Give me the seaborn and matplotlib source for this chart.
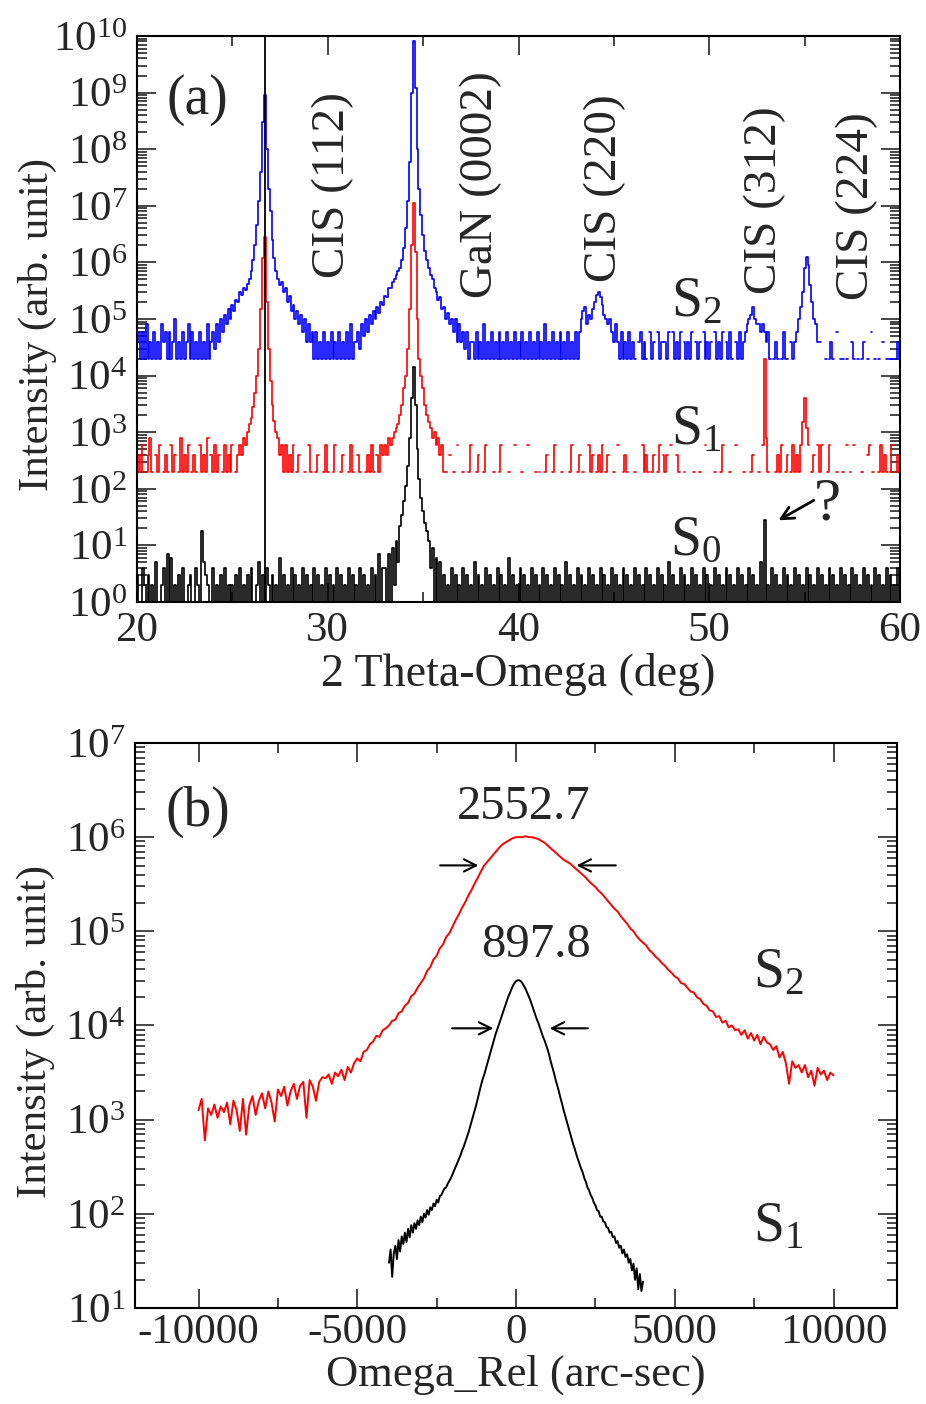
import numpy as np
import pandas as pd
import matplotlib
matplotlib.use("Agg")
import matplotlib.pyplot as plt
import seaborn as sns
from matplotlib.ticker import LogLocator, MultipleLocator, LogFormatterMathtext, NullFormatter

# ---------------- panel (a): 2theta-omega scans, 0.1 deg grid 20..60 deg
# baseline counts (one digit per point); S0 zeros drop to the axis, S1/S2 zeros are gaps
s0_counts = ("30142031205102407160213041023014201532014021304120"
             "20314021304102503142031206130214031204130214031204"
             "13021403120413021403120413071403120413021403120413"
             "02130412041302140312041302150312041302140312061302"
             "14031204130214031204130215031204130214031204130214"
             "03120413021403120413021403120513021403120413021403"
             "12041302140312041302140312051302140312041302140312"
             "04130214031204130214031204130214031204130214031204"
             "1")
s1_counts = ("12130124102130121031201412130121031214021312013121"
             "30121021312410213121312140213121301200103100120013"
             "10013001200131002100121310213214021312130213121402"
             "12131214021310201030010013001200130001001300010030"
             "00100300010100120013000100013001201003120121301200"
             "10300121000100031210120130212030021001000010010030"
             "00010013000100300010001200100031000121301201312121"
             "21301203130013000100103010300010023010013121013012"
             "1")
s2_counts = ("23131412131214231312512131241312131214123121412131"
             "21312131213121312131213121312131213121312131412131"
             "21312131213141213121213141312131213121312131213121"
             "31213121312131213121312131213121412131213121312131"
             "21312131213121412131213121312131213121312131213121"
             "31213121312102312103120312021303121302121302120312"
             "12031213021310213121121312131213101210131102120101"
             "12131010200101210301101002101012010301010201101012"
             "1")
s0_scale, s1_scale, s2_scale = 1.0, 200.0, 2.0e4

# peak profiles (intensity, start angle, 0.1 deg apart)
s2_112_start = 24.0
s2_112 = [6e4, 3e4, 8e4, 4e4, 1e5, 6e4, 1.2e5, 8e4, 1.5e5, 1e5,
          1.8e5, 1.4e5, 2.2e5, 2e5, 3e5, 2.6e5, 3.5e5, 3.2e5, 4.2e5, 5e5,
          7e5, 1.1e6, 2e6, 4.5e6, 1.2e7, 4e7, 3e8, 9e8, 1e8, 2e7,
          8e6, 2.5e6, 1.2e6, 7e5, 5e5, 4e5, 4.5e5, 3e5, 3.5e5, 2e5,
          2.5e5, 1.4e5, 1.8e5, 1e5, 1.4e5, 8e4, 1.2e5, 6e4, 1e5, 4e4,
          8e4, 4e4, 6e4, 2e4, 6e4]
s2_gan_start = 31.5
s2_gan = [4e4, 6e4, 3e4, 8e4, 5e4,
          1e5, 6e4, 1.2e5, 8e4, 1.4e5, 1e5, 1.6e5, 1.3e5, 2e5, 1.8e5,
          2.5e5, 2.4e5, 3.5e5, 3.5e5, 4.5e5, 5e5, 6e5, 7e5, 8e5, 1.1e6,
          1.8e6, 4e6, 1.2e7, 6e7, 1e9, 8e9, 1.2e9, 1e8, 2e7, 7e6,
          3e6, 1.6e6, 1.1e6, 8e5, 6e5, 5e5, 3.5e5, 3e5, 2.2e5, 2.4e5,
          1.5e5, 1.6e5, 1e5, 1.3e5, 8e4, 1e5, 6e4, 1e5, 4e4, 8e4,
          4e4, 6e4, 3e4, 6e4, 2e4, 4e4]
s2_220_start = 43.2
s2_220 = [6e4, 1e5, 1.4e5, 1.6e5, 8e4, 1.2e5, 1e5, 1.5e5, 2e5, 2.6e5,
          3e5, 2.4e5, 1.8e5, 1.2e5, 1e5, 8e4, 1e5, 6e4, 4e4, 8e4]
s2_312_start = 51.9
s2_312 = [6e4, 8e4, 1e5, 1.2e5, 1.6e5, 1e5, 8e4, 8e4, 6e4, 8e4, 6e4, 4e4]
s2_224_start = 54.6
s2_224 = [6e4, 1e5, 1.6e5, 3e5, 8e5, 1.25e6, 9e5, 4e5, 2e5, 1e5, 8e4, 4e4]

s1_112_start = 25.3
s1_112 = [400, 600, 400, 800, 600, 1000, 1400, 1800, 2800, 5000,
          1e4, 3e4, 1.5e5, 1.2e6, 2.8e6, 2e5, 3e4, 8000, 3000, 1600,
          1000, 800, 400, 600, 200]
s1_gan_start = 32.9
s1_gan = [400, 600, 400, 800, 600, 800, 1000, 1200, 1400, 2000,
          3000, 6000, 1e4, 3e4, 1.5e5, 2e6, 1.1e7, 1.5e6, 1e5, 2e4,
          1e4, 6000, 3000, 2000, 1500, 1200, 800, 1000, 600, 800,
          400, 600, 200]
s1_312_start = 52.8
s1_312 = [600, 2e4, 800]
s1_224_start = 54.8
s1_224 = [600, 1500, 4000, 1200, 600]

s0_gan_start = 33.0
s0_gan = [4, 0, 7, 1, 9, 2, 12, 5, 22, 35,
          60, 110, 250, 800, 4000, 1.4e4, 3000, 500, 150, 70,
          40, 25, 18, 12, 4, 9, 1, 6, 0, 5, 1]
s0_spike_x = [23.4, 52.9]
s0_spike_y = [18, 28]

cis112_line = 26.7

# ---------------- panel (b): omega rocking curves (log10 intensity)
s2_rc_log = [3.10, 3.22, 2.78, 3.12, 3.05, 3.16, 3.02, 3.14, 3.08, 3.18,
             2.95, 3.20, 3.10, 2.88, 3.22, 2.84, 3.15, 3.25, 3.05, 3.20,
             3.28, 3.12, 3.30, 3.18, 2.98, 3.32, 3.25, 3.35, 3.15, 3.30,
             3.38, 3.22, 3.36, 3.40, 3.02, 3.42, 3.35, 3.20, 3.40, 3.45,
             3.44, 3.48, 3.38, 3.50, 3.46, 3.53, 3.42, 3.56, 3.50, 3.60,
             3.65, 3.62, 3.72, 3.74, 3.80, 3.83, 3.89, 3.88, 3.95, 3.97,
             4.00, 4.05, 4.06, 4.13, 4.15, 4.21, 4.24, 4.31, 4.34, 4.40,
             4.45, 4.50, 4.58, 4.62, 4.70, 4.74, 4.82, 4.86, 4.94, 4.98,
             5.05, 5.12, 5.18, 5.25, 5.31, 5.38, 5.44, 5.51, 5.57, 5.64,
             5.70, 5.74, 5.78, 5.82, 5.86, 5.90, 5.93, 5.95, 5.97, 5.99,
             6.00, 6.00, 6.00, 6.01, 6.00, 6.00, 5.99, 5.98, 5.96, 5.94,
             5.91, 5.88, 5.85, 5.82, 5.79, 5.76, 5.74, 5.72, 5.69, 5.66,
             5.63, 5.60, 5.57, 5.53, 5.50, 5.47, 5.43, 5.40, 5.36, 5.32,
             5.28, 5.24, 5.21, 5.16, 5.12, 5.08, 5.03, 5.00, 4.95, 4.91,
             4.88, 4.85, 4.80, 4.77, 4.73, 4.70, 4.66, 4.63, 4.59, 4.56,
             4.52, 4.50, 4.45, 4.44, 4.40, 4.36, 4.35, 4.30, 4.28, 4.23,
             4.21, 4.16, 4.15, 4.09, 4.10, 4.03, 4.05, 3.98, 4.00, 3.95,
             3.96, 3.90, 3.95, 3.86, 3.92, 3.84, 3.90, 3.80, 3.88, 3.82,
             3.80, 3.74, 3.78, 3.66, 3.72, 3.60, 3.38, 3.62, 3.55, 3.58,
             3.50, 3.58, 3.45, 3.52, 3.36, 3.55, 3.48, 3.52, 3.42, 3.50,
             3.47]
s1_rc_log = [1.48, 1.62, 1.33, 1.58, 1.66, 1.52, 1.72, 1.60, 1.76, 1.68,
             1.80, 1.70, 1.84, 1.75, 1.88, 1.80, 1.90, 1.84, 1.93, 1.88,
             1.97, 1.91, 2.00, 1.96, 2.04, 1.99, 2.07, 2.04, 2.11, 2.08,
             2.15, 2.12, 2.19, 2.20, 2.24, 2.27, 2.28, 2.32, 2.35, 2.38,
             2.42, 2.46, 2.50, 2.54, 2.58, 2.62, 2.67, 2.71, 2.76, 2.81,
             2.86, 2.92, 2.98, 3.04, 3.10, 3.16, 3.23, 3.30, 3.37, 3.43,
             3.48, 3.54, 3.60, 3.66, 3.72, 3.78, 3.84, 3.90, 3.95, 4.00,
             4.05, 4.10, 4.15, 4.20, 4.25, 4.30, 4.34, 4.38, 4.42, 4.45,
             4.47, 4.48, 4.48, 4.47, 4.45, 4.42, 4.39, 4.35, 4.31, 4.27,
             4.22, 4.17, 4.12, 4.07, 4.03, 3.98, 3.93, 3.88, 3.84, 3.79,
             3.74, 3.68, 3.61, 3.55, 3.49, 3.42, 3.36, 3.30, 3.23, 3.17,
             3.10, 3.04, 2.98, 2.92, 2.86, 2.80, 2.74, 2.69, 2.63, 2.58,
             2.53, 2.48, 2.44, 2.38, 2.34, 2.28, 2.25, 2.20, 2.17, 2.12,
             2.09, 2.04, 2.03, 1.97, 1.97, 1.92, 1.91, 1.86, 1.85, 1.80,
             1.81, 1.75, 1.76, 1.69, 1.71, 1.64, 1.66, 1.58, 1.62, 1.54,
             1.57, 1.48, 1.52, 1.40, 1.47, 1.30, 1.42, 1.20, 1.36, 1.18,
             1.28]
s2_rc_range = (-10000, 10000)
s1_rc_range = (-4000, 4000)


def counts_to_series(counts, scale, gaps):
    c = np.array([int(ch) for ch in counts], dtype=float)
    y = c * scale
    if gaps:
        y[c == 0] = np.nan
    return y


def put_peak(x, y, start, vals):
    for i, v in enumerate(vals):
        k = np.abs(x - (start + 0.1 * i)).argmin()
        y[k] = v


x_grid = np.linspace(20, 60, len(s0_counts))
y_s0 = counts_to_series(s0_counts, s0_scale, gaps=False)
y_s1 = counts_to_series(s1_counts, s1_scale, gaps=True)
y_s2 = counts_to_series(s2_counts, s2_scale, gaps=True)
x1 = np.linspace(20, 60, len(y_s1))
x2 = np.linspace(20, 60, len(y_s2))

for st, vals in [(s2_112_start, s2_112), (s2_gan_start, s2_gan), (s2_220_start, s2_220),
                 (s2_312_start, s2_312), (s2_224_start, s2_224)]:
    put_peak(x2, y_s2, st, vals)
for st, vals in [(s1_112_start, s1_112), (s1_gan_start, s1_gan),
                 (s1_312_start, s1_312), (s1_224_start, s1_224)]:
    put_peak(x1, y_s1, st, vals)
put_peak(x_grid, y_s0, s0_gan_start, s0_gan)
for sx, sy in zip(s0_spike_x, s0_spike_y):
    y_s0[np.abs(x_grid - sx).argmin()] = sy

rc = pd.concat([
    pd.DataFrame({"omega": np.linspace(*s2_rc_range, len(s2_rc_log)),
                  "I": 10 ** np.array(s2_rc_log), "sample": "S2"}),
    pd.DataFrame({"omega": np.linspace(*s1_rc_range, len(s1_rc_log)),
                  "I": 10 ** np.array(s1_rc_log), "sample": "S1"}),
])

# ---------------- style
sns.set_style("ticks")
plt.rcParams["font.family"] = ["Liberation Serif", "DejaVu Serif"]
plt.rcParams["mathtext.fontset"] = "custom"
plt.rcParams["mathtext.rm"] = "Liberation Serif"
plt.rcParams["mathtext.it"] = "Liberation Serif:italic"
plt.rcParams["mathtext.bf"] = "Liberation Serif:bold"
plt.rcParams["axes.unicode_minus"] = False
plt.rcParams["axes.linewidth"] = 1.5

fig = plt.figure(figsize=(9.26, 14.04), dpi=100)
ax_a = fig.add_axes([0.148, 0.5712, 0.824, 0.4032])
ax_b = fig.add_axes([0.1458, 0.0684, 0.8229, 0.4024])


def style_axis(ax):
    ax.set_yscale("log")
    ax.yaxis.set_major_locator(LogLocator(base=10, numticks=20))
    ax.yaxis.set_minor_locator(LogLocator(base=10, subs=np.arange(2, 10), numticks=20))
    ax.yaxis.set_major_formatter(LogFormatterMathtext())
    ax.yaxis.set_minor_formatter(NullFormatter())
    ax.tick_params(which="both", direction="in", top=True, right=True, width=1.2,
                   labelsize=31, pad=7)
    ax.tick_params(which="major", length=14)
    ax.tick_params(which="minor", length=7)
    for s in ax.spines.values():
        s.set_linewidth(1.5)
        s.set_color("black")


# panel (a)
ax_a.plot(x2, y_s2, color="#0000ff", lw=1.2, drawstyle="steps-mid")
ax_a.plot(x1, y_s1, color="#ff0000", lw=1.2, drawstyle="steps-mid")
ax_a.plot(x_grid, y_s0, color="black", lw=1.2, drawstyle="steps-mid")
ax_a.axvline(cis112_line, color="black", lw=1.3)
style_axis(ax_a)
ax_a.set_xlim(20, 60)
ax_a.set_ylim(1, 1e10)
ax_a.xaxis.set_major_locator(MultipleLocator(10))
ax_a.xaxis.set_minor_locator(MultipleLocator(5))
ax_a.set_xlabel("2 Theta-Omega (deg)", fontsize=33)
ax_a.set_ylabel("Intensity (arb. unit)", fontsize=31)
ax_a.xaxis.set_label_coords(0.5, -0.09)
ax_a.yaxis.set_label_coords(-0.105, 0.49)

ax_a.text(23.15, 10 ** 8.87, "(a)", fontsize=40, ha="center", va="center")
for px, py, lab in [(30.27, 7.37, "CIS (112)"), (38.03, 7.37, "GaN (0002)"),
                    (44.5, 7.31, "CIS (220)"), (52.9, 7.1, "CIS (312)"),
                    (57.75, 7.0, "CIS (224)")]:
    ax_a.text(px, 10 ** py, lab, fontsize=34, rotation=90, ha="center", va="center")
ax_a.text(49.3, 10 ** 5.3, r"S$_2$", fontsize=40, ha="center", va="center")
ax_a.text(49.3, 10 ** 3.03, r"S$_1$", fontsize=40, ha="center", va="center")
ax_a.text(49.3, 10 ** 1.08, r"S$_0$", fontsize=40, ha="center", va="center")
ax_a.text(56.2, 10 ** 1.72, "?", fontsize=44, ha="center", va="center")
ax_a.annotate("", xy=(53.5, 10 ** 1.42), xytext=(55.6, 10 ** 1.82),
              arrowprops=dict(arrowstyle="->", lw=2, color="black", mutation_scale=22))

# panel (b)
sns.lineplot(data=rc, x="omega", y="I", hue="sample", palette={"S2": "#ff0000", "S1": "black"},
             estimator=None, sort=False, lw=1.4, legend=False, ax=ax_b)
style_axis(ax_b)
ax_b.tick_params(axis="x", which="both", pad=4)
ax_b.set_xlim(-12000, 12000)
ax_b.set_ylim(10, 1e7)
ax_b.xaxis.set_major_locator(MultipleLocator(5000))
ax_b.xaxis.set_minor_locator(MultipleLocator(2500))
ax_b.set_xlabel("Omega_Rel (arc-sec)", fontsize=32)
ax_b.set_ylabel("Intensity (arb. unit)", fontsize=31)
ax_b.xaxis.set_label_coords(0.5, -0.082)
ax_b.yaxis.set_label_coords(-0.105, 0.49)

ax_b.text(-10031, 10 ** 6.27, "(b)", fontsize=40, ha="center", va="center")
ax_b.text(250, 10 ** 6.32, "2552.7", fontsize=35, ha="center", va="center")
ax_b.text(627, 10 ** 4.85, "897.8", fontsize=35, ha="center", va="center")
ax_b.text(8250, 10 ** 4.55, r"S$_2$", fontsize=40, ha="center", va="center")
ax_b.text(8250, 10 ** 1.86, r"S$_1$", fontsize=40, ha="center", va="center")
arrow = dict(arrowstyle="->", lw=1.5, color="black", mutation_scale=22)
ax_b.annotate("", xy=(-1097, 10 ** 5.70), xytext=(-2476, 10 ** 5.70), arrowprops=arrow)
ax_b.annotate("", xy=(1818, 10 ** 5.70), xytext=(3229, 10 ** 5.70), arrowprops=arrow)
ax_b.annotate("", xy=(-627, 10 ** 3.97), xytext=(-2100, 10 ** 3.97), arrowprops=arrow)
ax_b.annotate("", xy=(972, 10 ** 3.97), xytext=(2351, 10 ** 3.97), arrowprops=arrow)

fig.savefig("out.png", dpi=100)
